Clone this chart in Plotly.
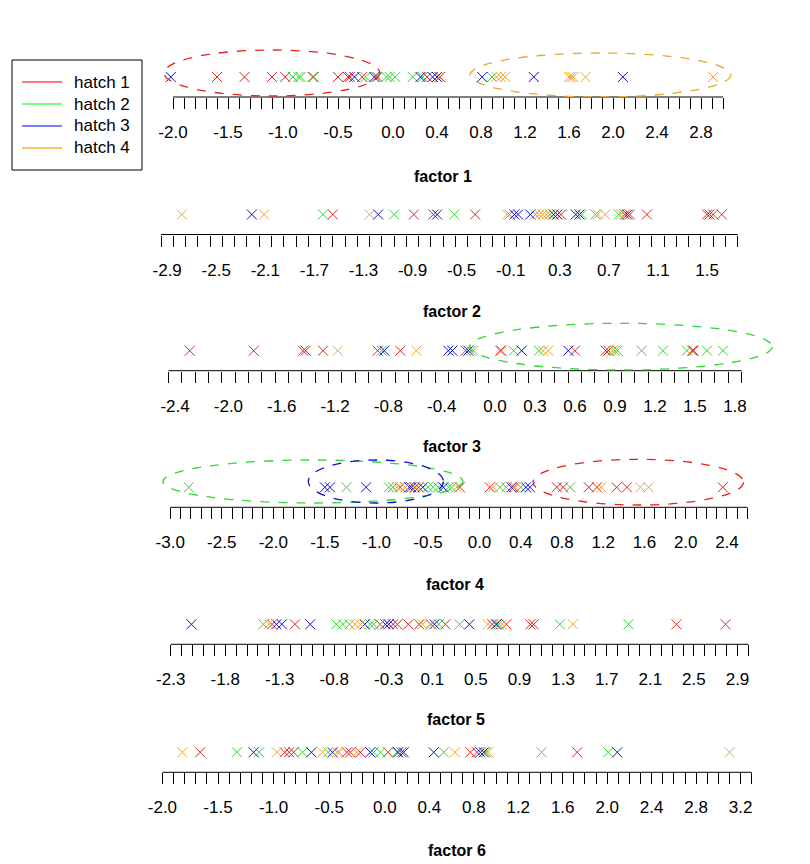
import plotly.graph_objects as go

hatches = ["hatch 1", "hatch 2", "hatch 3", "hatch 4"]
colors = ["#e8201c", "#2fd92f", "#1010d0", "#f0a42a"]
legend_colors = ["#ff5050", "#50ff50", "#5050ff", "#ffb030"]

# factor scores per hatch
f1_h1 = [-1.60, -1.35, -1.10, -0.98, -0.73, -0.50, -0.41, -0.39, -0.28, -0.15, 0.31, 0.43]
f1_h2 = [-0.91, -0.86, -0.84, -0.72, -0.25, -0.14, -0.06, -0.03, 0.02, 0.18, 0.27, 0.90]
f1_h3 = [-2.02, -0.35, -0.17, 0.25, 0.36, 0.40, 0.81, 1.28, 2.09]
f1_h4 = [0.42, 0.94, 0.98, 1.02, 1.60, 1.62, 1.64, 1.75, 2.91]

f2_h1 = [-1.55, -0.89, -0.73, -0.39, 0.31, 0.83, 0.87, 1.01, 1.50, 1.52, 1.55, 1.62]
f2_h2 = [-1.63, -1.05, -0.56, -0.11, 0.10, 0.22, 0.48, 0.59, 0.78]
f2_h3 = [-2.21, -1.18, -0.70, -0.07, -0.04, 0.06, 0.25, 0.28, 0.43, 0.46, 0.85]
f2_h4 = [-2.78, -2.11, -1.25, -0.13, 0.13, 0.16, 0.19, 0.61, 0.67, 0.80]

f3_h1 = [-2.29, -1.81, -1.44, -1.42, -1.29, -0.88, -0.71, -0.22, 0.04, 0.60, 0.83, 0.85, 1.48, 1.49]
f3_h2 = [-0.85, -0.18, 0.14, 0.33, 0.90, 0.92, 1.10, 1.26, 1.44, 1.59, 1.71]
f3_h3 = [-0.83, -0.35, -0.32, -0.20, 0.20, 0.55]
f3_h4 = [-1.18, -0.59, -0.16, 0.05, 0.36, 0.40, 0.88]

f4_h1 = [-0.77, -0.63, -0.59, -0.19, 0.10, 0.33, 0.75, 0.81, 1.06, 1.14, 1.33, 1.43, 2.36]
f4_h2 = [-2.82, -1.29, -0.88, -0.84, -0.50, -0.45, -0.40, -0.30, -0.27, 0.20, 0.26, 0.40, 0.88]
f4_h3 = [-1.50, -1.45, -1.10, -0.68, -0.66, -0.55, -0.35, 0.31, 0.45, 0.49]
f4_h4 = [-0.80, -0.72, -0.62, -0.22, 0.13, 0.35, 1.18, 1.56, 1.64]

f5_h1 = [-1.37, -1.16, -0.26, -0.22, -0.12, -0.02, 0.22, 0.65, 0.78, 1.00, 1.03, 2.34, 2.79]
f5_h2 = [-1.45, -0.78, -0.72, -0.66, -0.47, -0.44, 0.09, 0.16, 0.35, 0.68, 0.71, 1.27, 1.90]
f5_h3 = [-2.11, -1.33, -1.28, -1.02, -0.52, -0.38, -0.33, -0.30, 0.12, 0.44, 0.69]
f5_h4 = [-1.40, -0.61, -0.56, -0.38, 0.01, 0.08, 0.61, 0.74, 1.39]

f6_h1 = [-1.66, -0.90, -0.86, -0.82, -0.34, -0.31, -0.22, 0.03, 0.15, 0.77, 0.83, 1.73]
f6_h2 = [-1.33, -1.13, -0.74, -0.51, -0.10, -0.04, 0.11, 0.53, 0.91, 1.41, 2.01]
f6_h3 = [-1.18, -0.66, -0.47, -0.13, 0.12, 0.17, 0.44, 0.86, 0.89, 2.09]
f6_h4 = [-1.82, -0.97, -0.56, -0.43, -0.41, -0.25, 0.63, 0.93, 3.10]

factors = [
    [f1_h1, f1_h2, f1_h3, f1_h4],
    [f2_h1, f2_h2, f2_h3, f2_h4],
    [f3_h1, f3_h2, f3_h3, f3_h4],
    [f4_h1, f4_h2, f4_h3, f4_h4],
    [f5_h1, f5_h2, f5_h3, f5_h4],
    [f6_h1, f6_h2, f6_h3, f6_h4],
]

# tick labels of each factor axis
lab1 = [-2.0, -1.5, -1.0, -0.5, 0.0, 0.4, 0.8, 1.2, 1.6, 2.0, 2.4, 2.8]
lab2 = [-2.9, -2.5, -2.1, -1.7, -1.3, -0.9, -0.5, -0.1, 0.3, 0.7, 1.1, 1.5]
lab3 = [-2.4, -2.0, -1.6, -1.2, -0.8, -0.4, 0.0, 0.3, 0.6, 0.9, 1.2, 1.5, 1.8]
lab4 = [-3.0, -2.5, -2.0, -1.5, -1.0, -0.5, 0.0, 0.4, 0.8, 1.2, 1.6, 2.0, 2.4]
lab5 = [-2.3, -1.8, -1.3, -0.8, -0.3, 0.1, 0.5, 0.9, 1.3, 1.7, 2.1, 2.5, 2.9]
lab6 = [-2.0, -1.5, -1.0, -0.5, 0.0, 0.4, 0.8, 1.2, 1.6, 2.0, 2.4, 2.8, 3.2]
labels = [lab1, lab2, lab3, lab4, lab5, lab6]

# first and last tick mark (marks every 0.1)
tick_span = [(-2.0, 3.0), (-2.95, 1.75), (-2.45, 1.85), (-3.0, 2.6), (-2.3, 3.0), (-2.0, 3.3)]

# highlighted groups: (factor row, hatch, x from, x to, y from, y to)
groups = [
    (0, 0, -2.08, -0.12, 1, 47),
    (0, 3, 0.70, 3.07, 0, 44),
    (2, 1, -0.19, 2.08, 0.7, 47.4),
    (3, 1, -3.07, -0.16, 4.3, 47.3),
    (3, 2, -1.66, -0.35, 4.3, 47.3),
    (3, 0, 0.52, 2.56, 2.3, 48),
]

# layout of each strip (screen pixels): zero position, pixels per unit,
# axis line y, title position
rows = [
    dict(px0=393, ppu=110.0, ay=97, ty=176, tx=443),
    dict(px0=523, ppu=122.7, ay=234.5, ty=311, tx=452),
    dict(px0=495, ppu=133.3, ay=370.7, ty=446, tx=452),
    dict(px0=479.5, ppu=103.1, ay=507.3, ty=584, tx=455),
    dict(px0=421.4, ppu=109.0, ay=644.3, ty=719, tx=456),
    dict(px0=384.8, ppu=111.2, ay=772.3, ty=850, tx=457),
]

OFF = 8  # page body margin
W, H = 810 - OFF, 864 - OFF
XL, XR = 140, 790
STRIP_H = 60


def xp(px):
    return (px - OFF) / W


def yp(py):
    return 1 - (py - OFF) / H


fig = go.Figure()
font = "Arial, Liberation Sans, sans-serif"

for i, (vals, row, labs, span) in enumerate(zip(factors, rows, labels, tick_span)):
    n = "" if i == 0 else str(i + 1)
    m = str(i + 7)
    for h, xs in enumerate(vals):
        fig.add_trace(go.Scatter(
            x=xs, y=[20] * len(xs), mode="markers",
            marker=dict(symbol="x-thin", size=10, line=dict(width=1, color=colors[h])),
            xaxis="x" + n, yaxis="y" + n, showlegend=False, hoverinfo="x",
        ))

    t0, t1 = span
    nt = int(round((t1 - t0) / 0.1))
    tickvals = [round(t0 + 0.1 * k, 2) for k in range(nt + 1)]

    lo = (XL - row["px0"]) / row["ppu"]
    hi = (XR - row["px0"]) / row["ppu"]
    ybot = yp(row["ay"])
    ytop = yp(row["ay"] - STRIP_H)

    fig.update_layout(**{
        # tick marks
        "xaxis" + n: dict(
            domain=[xp(XL), xp(XR)], range=[lo, hi], anchor="y" + n,
            tickmode="array", tickvals=tickvals, showticklabels=False,
            ticks="outside", ticklen=11, tickwidth=1, tickcolor="black",
            showline=False, showgrid=False, zeroline=False,
        ),
        # tick labels
        "xaxis" + m: dict(
            overlaying="x" + n, anchor="y" + n, side="bottom", range=[lo, hi],
            tickmode="array", tickvals=labs, ticktext=["%.1f" % v for v in labs],
            ticks="", showline=False, showgrid=False, zeroline=False,
            tickfont=dict(size=17, color="black", family=font),
            ticklabelstandoff=23,
        ),
        "yaxis" + n: dict(
            domain=[ybot, ytop], range=[0, STRIP_H], anchor="x" + n, visible=False,
        ),
    })
    # empty trace so the label axis is drawn
    fig.add_trace(go.Scatter(x=[None], y=[None], xaxis="x" + m, yaxis="y" + n,
                             showlegend=False, hoverinfo="skip"))

    # axis line only across the ticked span
    fig.add_shape(type="line", xref="x" + n, yref="paper",
                  x0=t0, x1=t1, y0=ybot, y1=ybot,
                  line=dict(color="black", width=1))

    fig.add_annotation(text="<b>factor %d</b>" % (i + 1), xref="paper", yref="paper",
                       x=xp(row["tx"]), y=yp(row["ty"]), xanchor="center", yanchor="middle",
                       showarrow=False, font=dict(size=16, color="black", family=font))

for r, h, xa, xb, ya, yb in groups:
    n = "" if r == 0 else str(r + 1)
    fig.add_shape(type="circle", xref="x" + n, yref="y" + n,
                  x0=xa, x1=xb, y0=ya, y1=yb,
                  line=dict(color=colors[h], width=1.3, dash="dash"))

# legend box drawn by hand, R style
fig.add_shape(type="rect", xref="paper", yref="paper",
              x0=xp(12), x1=xp(142), y0=yp(60), y1=yp(170),
              line=dict(color="black", width=1), fillcolor="white")
for h, name in enumerate(hatches):
    ly = 82 + 22 * h
    fig.add_shape(type="line", xref="paper", yref="paper",
                  x0=xp(22), x1=xp(62), y0=yp(ly), y1=yp(ly),
                  line=dict(color=legend_colors[h], width=1.5))
    fig.add_annotation(text=name, xref="paper", yref="paper",
                       x=xp(72), y=yp(ly), xanchor="left", yanchor="middle",
                       showarrow=False, font=dict(size=17, color="black", family=font))

fig.update_layout(
    width=W, height=H,
    margin=dict(l=0, r=0, t=0, b=0),
    plot_bgcolor="white", paper_bgcolor="white",
    showlegend=False,
    font=dict(family=font),
)

fig.write_html("out.html")
